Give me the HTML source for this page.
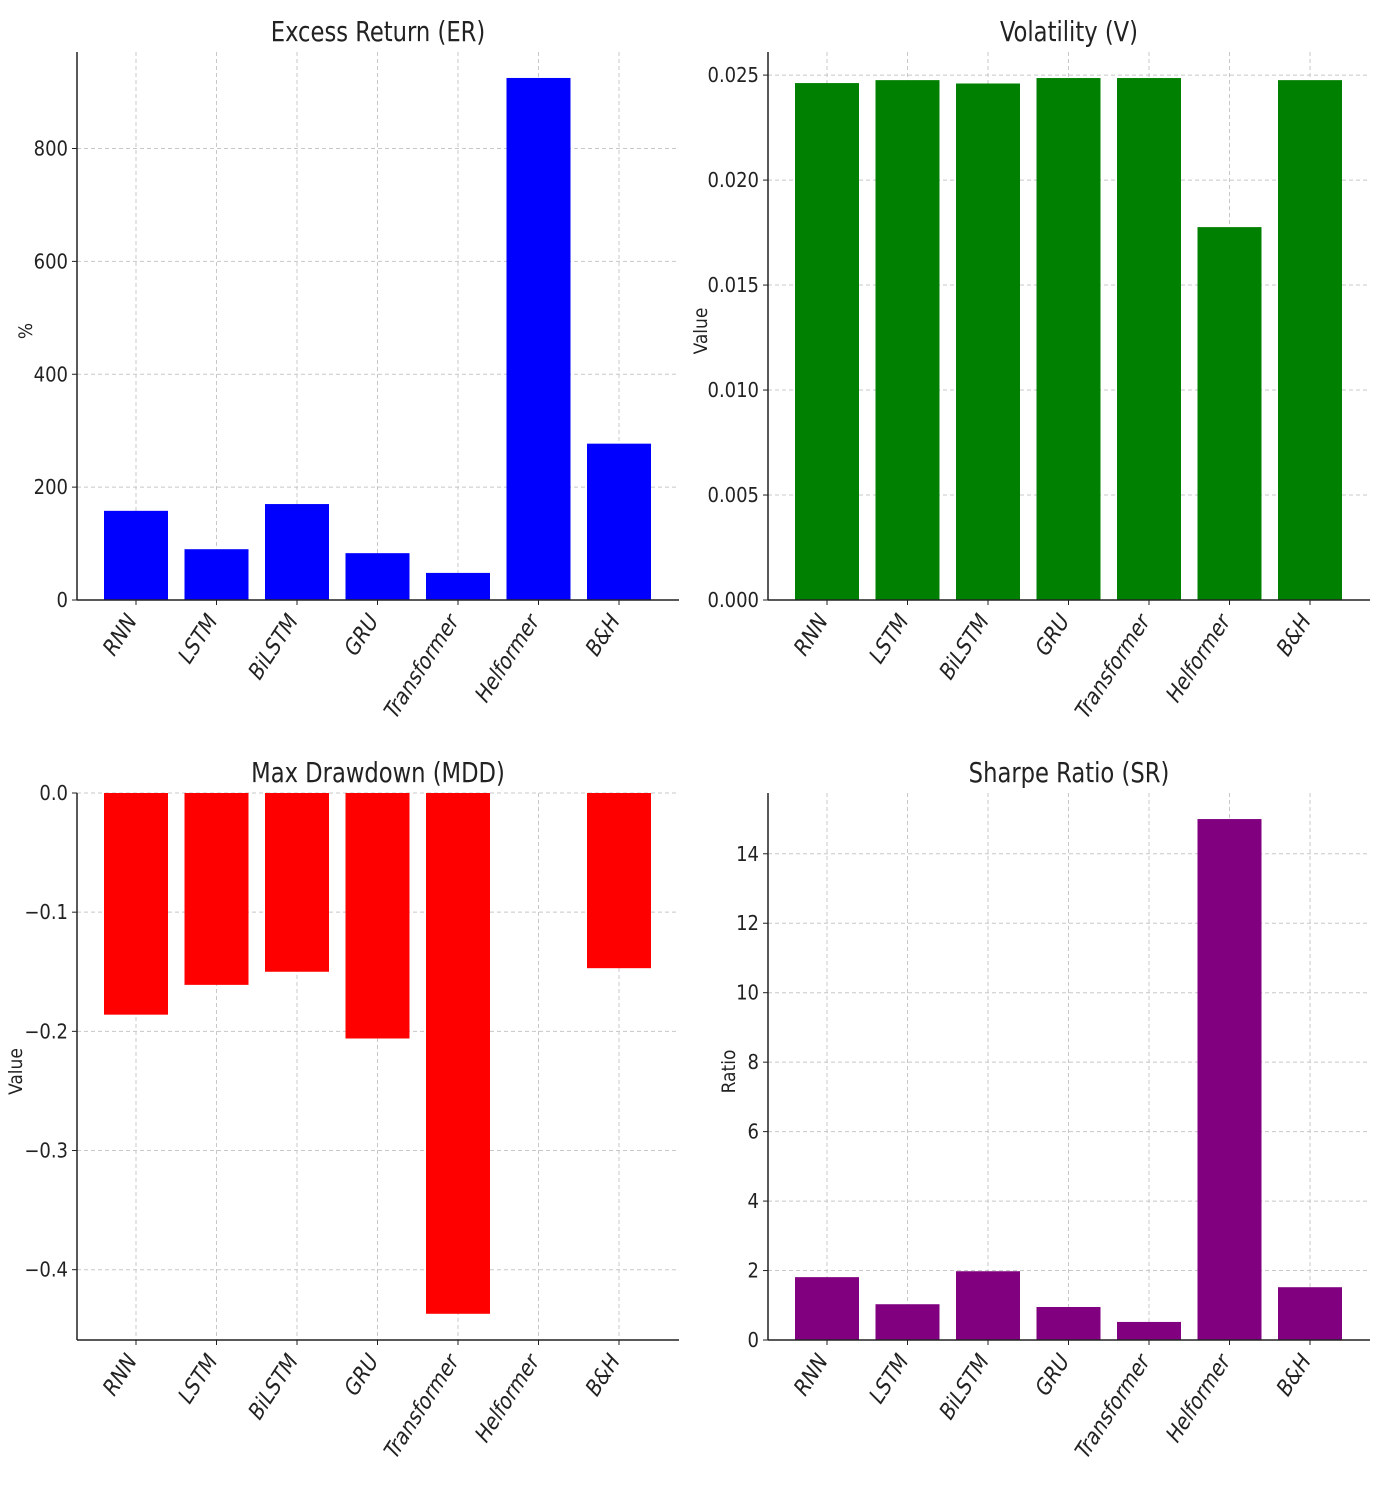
<!DOCTYPE html>
<html><head><meta charset="utf-8"><style>
body{margin:0;background:#fff;}
svg text{font-family:"DejaVu Sans Condensed","Liberation Sans Narrow","Liberation Sans",sans-serif;fill:#222;}
</style></head><body>
<svg id="c" width="1379" height="1487" xmlns="http://www.w3.org/2000/svg"></svg>
<script>
const categories=["RNN","LSTM","BiLSTM","GRU","Transformer","Helformer","B&H"];
const erValues=[158,90,170,83,48,925,277];
const vValues=[0.02462,0.02476,0.0246,0.02486,0.02486,0.01776,0.02476];
const mddValues=[-0.186,-0.161,-0.150,-0.206,-0.437,0,-0.147];
const srValues=[1.81,1.03,1.98,0.95,0.52,15.0,1.52];
const erTicks=[0,200,400,600,800];
const vTicks=[0,0.005,0.010,0.015,0.020,0.025];
const mddTicks=[0,-0.1,-0.2,-0.3,-0.4];
const srTicks=[0,2,4,6,8,10,12,14];

const svg=document.getElementById('c');
const NS="http://www.w3.org/2000/svg";
function mk(tag,attrs,parent){const e=document.createElementNS(NS,tag);for(const k in attrs)e.setAttribute(k,attrs[k]);(parent||svg).appendChild(e);return e;}

function panel(o){
  const g=mk('g',{});
  
  
  const y=v=>o.bot-(v-o.ymin)/(o.ymax-o.ymin)*(o.bot-o.top);
  const step=80.5;
  const x=i=>o.left+59+step*i;
  o.ticks.forEach(t=>{const l=mk('line',{x1:o.left,x2:o.right,y1:y(t),y2:y(t),stroke:'#c8c8c8','stroke-dasharray':'4,3','stroke-width':1},g);
    });
  categories.forEach((c,i)=>{const l=mk('line',{x1:x(i),x2:x(i),y1:o.top,y2:o.bot,stroke:'#c8c8c8','stroke-dasharray':'4,3','stroke-width':1},g);
    });
  const bw=64;
  o.values.forEach((v,i)=>{const y0=y(0),y1=y(v);
    const r=mk('rect',{x:x(i)-bw/2,y:Math.min(y0,y1),width:bw,height:Math.abs(y1-y0),fill:o.color},g);
    
    });
  mk('line',{x1:o.left,x2:o.left,y1:o.top,y2:o.bot,stroke:'#222','stroke-width':1.5},g);
  mk('line',{x1:o.left,x2:o.right,y1:o.bot,y2:o.bot,stroke:'#222','stroke-width':1.5},g);
  o.ticks.forEach(t=>{mk('line',{x1:o.left-5,x2:o.left,y1:y(t),y2:y(t),stroke:'#222'},g);
    const tx=mk('text',{x:o.left-9,y:y(t)+7,'text-anchor':'end','font-size':20},g);
    tx.textContent=o.fmt(t);
    });
  categories.forEach((c,i)=>{mk('line',{x1:x(i),x2:x(i),y1:o.bot,y2:o.bot+5,stroke:'#222'},g);
    const tx=mk('text',{x:0,y:0,'text-anchor':'end','font-size':22,transform:`translate(${x(i)+1},${o.bot+22}) rotate(-57) skewX(-12)`},g);
    tx.textContent=c;
    });
  const tt=mk('text',{x:(o.left+o.right)/2,y:o.top-11,'text-anchor':'middle','font-size':28,transform:`translate(${(o.left+o.right)/2},0) scale(0.9,1) translate(${-(o.left+o.right)/2},0)`},g);
  tt.textContent=o.title;
  const yl=mk('text',{x:0,y:0,'text-anchor':'middle','font-size':19,transform:`translate(${o.ylx},${(o.top+o.bot)/2+5}) rotate(-90)`},g);
  yl.textContent=o.ylabel;
}
panel({name:'excess-return-panel',left:77,right:679,top:52,bot:600,ymin:0,ymax:971,values:erValues,ticks:erTicks,color:'#0000ff',title:'Excess Return (ER)',ylabel:'%',ylx:32,fmt:t=>String(t)});
panel({name:'volatility-panel',left:768,right:1370,top:52,bot:600,ymin:0,ymax:0.0261,values:vValues,ticks:vTicks,color:'#008000',title:'Volatility (V)',ylabel:'Value',ylx:707,fmt:t=>t.toFixed(3)});
panel({name:'max-drawdown-panel',left:77,right:679,top:793,bot:1340,ymin:-0.459,ymax:0,values:mddValues,ticks:mddTicks,color:'#ff0000',title:'Max Drawdown (MDD)',ylabel:'Value',ylx:22,fmt:t=>(t<0?'\u2212':'')+Math.abs(t).toFixed(1)});
panel({name:'sharpe-ratio-panel',left:768,right:1370,top:793,bot:1340,ymin:0,ymax:15.75,values:srValues,ticks:srTicks,color:'#800080',title:'Sharpe Ratio (SR)',ylabel:'Ratio',ylx:735,fmt:t=>String(t)});
</script>
</body></html>
